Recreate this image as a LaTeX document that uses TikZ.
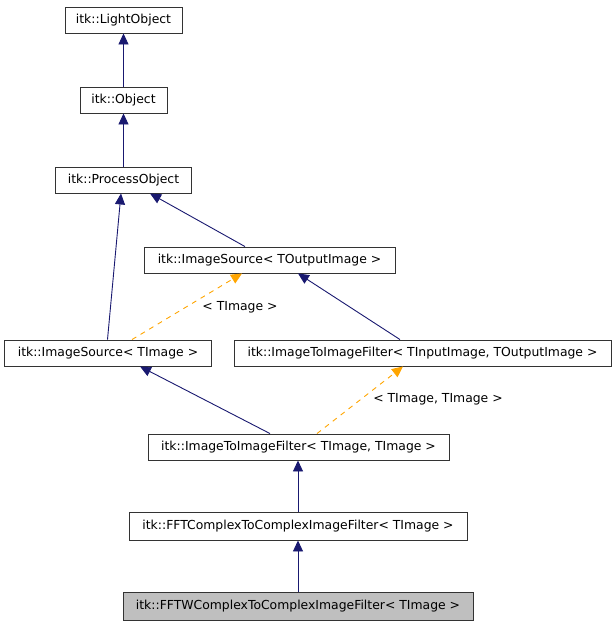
\documentclass[tikz,border=0pt]{standalone}
\usepackage{fontspec}
\setmainfont{DejaVu Sans}
\usetikzlibrary{arrows.meta}
\definecolor{navy}{RGB}{25,25,112}
\definecolor{dorange}{RGB}{255,165,0}
\definecolor{fillgray}{RGB}{191,191,191}
\tikzset{
  cls/.style={draw=black!80, line width=0.9pt, fill=white, inner sep=0pt, minimum height=26pt, font=\fontsize{12.4}{14}\selectfont},
  inh/.style={draw=navy, line width=0.9pt, -{Triangle[length=11pt,width=10pt]}, color=navy},
  tmpl/.style={draw=dorange, line width=0.9pt, dash pattern=on 5pt off 5pt, -{Triangle[length=11pt,width=10pt]}, color=dorange},
  lbl/.style={font=\fontsize{12.4}{14}\selectfont, inner sep=0pt}
}
\begin{document}
\begin{tikzpicture}[x=1pt,y=-1pt]
\useasboundingbox (0,0) rectangle (616,627);
\node[cls, minimum width=117pt] (lo) at (123.5,20) {itk::LightObject};
\node[cls, minimum width=87pt] (ob) at (123.5,100) {itk::Object};
\node[cls, minimum width=136pt] (po) at (123.5,180) {itk::ProcessObject};
\node[cls, minimum width=251pt] (iso) at (269.5,260) {itk::ImageSource< TOutputImage >};
\node[cls, minimum width=207pt] (ist) at (108,353) {itk::ImageSource< TImage >};
\node[cls, minimum width=377pt] (iif) at (422.5,353) {itk::ImageToImageFilter< TInputImage, TOutputImage >};
\node[cls, minimum width=301pt] (iitt) at (298.5,447) {itk::ImageToImageFilter< TImage, TImage >};
\node[cls, minimum width=338pt, minimum height=28pt] (fft) at (298,526) {itk::FFTComplexToComplexImageFilter< TImage >};
\node[cls, minimum width=350pt, minimum height=28pt, fill=fillgray] (fftw) at (298,606) {itk::FFTWComplexToComplexImageFilter< TImage >};

\draw[inh] (ob.north) -- (lo.south);
\draw[inh] (po.north) -- (ob.south);
\draw[inh] ([xshift=-0.5pt]ist.north) -- ([xshift=-2.5pt]po.south);
\draw[inh] ([xshift=-24.5pt]iso.north) -- ([xshift=26.5pt]po.south);
\draw[tmpl] ([xshift=24pt]ist.north) -- ([xshift=-27.5pt]iso.south);
\draw[inh] ([xshift=-22.5pt]iif.north) -- ([xshift=28.5pt]iso.south);
\draw[inh] ([xshift=-28.5pt]iitt.north) -- ([xshift=32pt]ist.south);
\draw[tmpl] ([xshift=18.5pt]iitt.north) -- ([xshift=-19.5pt]iif.south);
\draw[inh] (fft.north) -- ([xshift=-0.5pt]iitt.south);
\draw[inh] (fftw.north) -- (fft.south);

\node[lbl] (l1) at (240,307) {< TImage >};
\node[lbl] (l2) at (438,399) {< TImage, TImage >};
\end{tikzpicture}
\end{document}
